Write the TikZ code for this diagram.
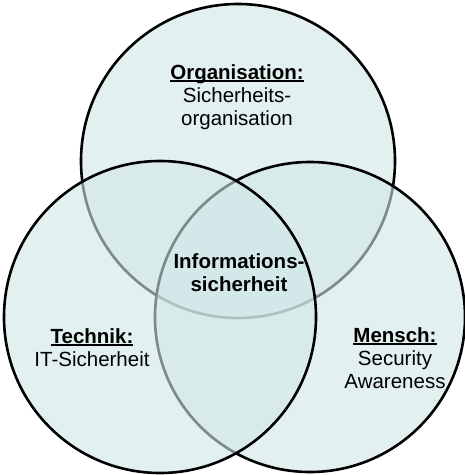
\documentclass[tikz,border=0pt]{standalone}
\usepackage{fontspec}
\setmainfont{Liberation Sans}
\newcommand\myul[1]{\setbox0\hbox{#1}\rlap{\rule[-3pt]{\wd0}{1.6pt}}\box0}
\definecolor{vennfill}{RGB}{208,230,230}
\begin{document}
\begin{tikzpicture}[x=1pt,y=-1pt,
  venn/.style={draw=black,line width=2.6pt,fill=vennfill,fill opacity=0.6},
  lbl/.style={anchor=north,inner sep=0pt,align=center,font=\fontsize{20.5}{23}\selectfont}]
\useasboundingbox (0,0) rectangle (465,475);
\path[venn] (238,161) circle[radius=157] coordinate (ctop);
\path[venn] (310,317) circle[radius=155] coordinate (cright);
\path[venn] (160,317) circle[radius=156] coordinate (cleft);
\node[lbl] (org) at (237,64) {\textbf{\myul{Organisation:}}\\Sicherheits-\\organisation};
\node[lbl] (info) at (239,253) {\textbf{Informations-}\\\textbf{sicherheit}};
\node[lbl] (tech) at (92,328) {\textbf{\myul{Technik:}}\\IT-Sicherheit};
\node[lbl] (mensch) at (395,327) {\textbf{\myul{Mensch:}}\\Security\\Awareness};
\end{tikzpicture}
\end{document}
